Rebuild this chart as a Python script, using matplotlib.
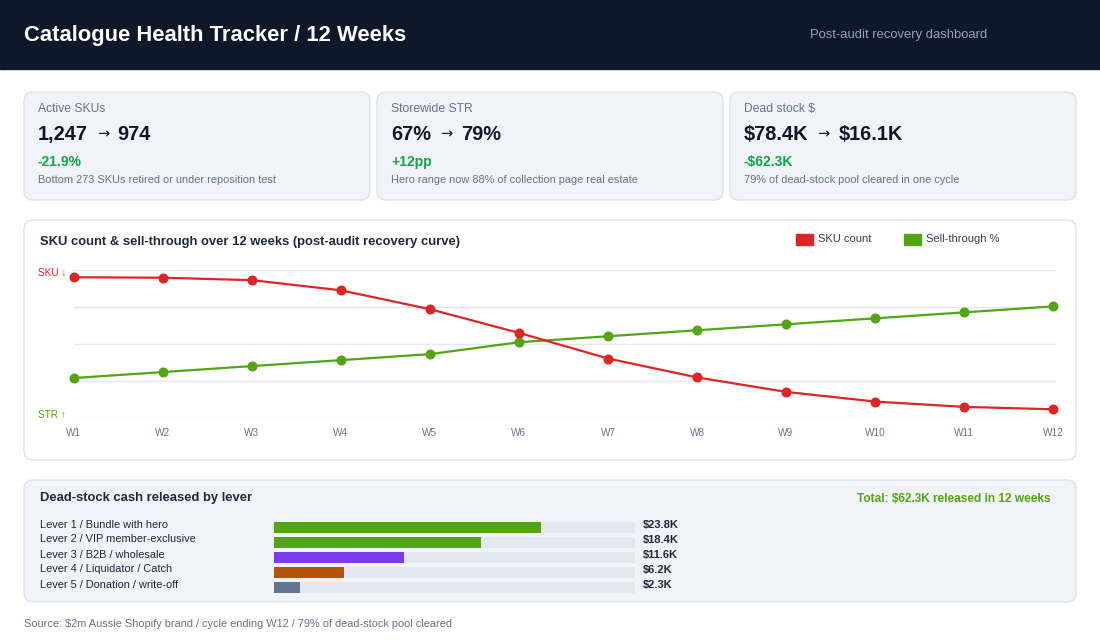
import matplotlib
matplotlib.use('Agg')
import matplotlib.pyplot as plt
from matplotlib.patches import FancyBboxPatch, Rectangle
import numpy as np

plt.rcParams['font.family'] = ['Liberation Sans', 'DejaVu Sans']

# ---------------- data ----------------
weeks = ['W1', 'W2', 'W3', 'W4', 'W5', 'W6', 'W7', 'W8', 'W9', 'W10', 'W11', 'W12']
sku_count = [1247, 1246, 1241, 1220, 1181, 1132, 1079, 1040, 1010, 990, 979, 974]
sell_through = [67, 68, 69, 70, 71, 73, 74, 75, 76, 77, 78, 79]

levers = ['Lever 1 / Bundle with hero', 'Lever 2 / VIP member-exclusive',
          'Lever 3 / B2B / wholesale', 'Lever 4 / Liquidator / Catch',
          'Lever 5 / Donation / write-off']
lever_values = [23.8, 18.4, 11.6, 6.2, 2.3]
lever_value_labels = ['$23.8K', '$18.4K', '$11.6K', '$6.2K', '$2.3K']
lever_colors = ['#52a514', '#52a514', '#7c3aed', '#b45309', '#64748b']

kpi_titles = ['Active SKUs', 'Storewide STR', 'Dead stock $']
kpi_from = ['1,247', '67%', '$78.4K']
kpi_to = ['974', '79%', '$16.1K']
kpi_deltas = ['-21.9%', '+12pp', '-$62.3K']
kpi_notes = ['Bottom 273 SKUs retired or under reposition test',
             'Hero range now 88% of collection page real estate',
             '79% of dead-stock pool cleared in one cycle']

title = 'Catalogue Health Tracker / 12 Weeks'
subtitle = 'Post-audit recovery dashboard'
chart_title = 'SKU count & sell-through over 12 weeks (post-audit recovery curve)'
bar_title = 'Dead-stock cash released by lever'
total_text = 'Total: $62.3K released in 12 weeks'
source_text = 'Source: $2m Aussie Shopify brand / cycle ending W12 / 79% of dead-stock pool cleared'

# ---------------- colours ----------------
NAVY = '#0f172a'
DARK = '#1e293b'
MUTED = '#64748b'
RED = '#dc2626'
GREEN = '#52a514'
DELTA_GREEN = '#16a34a'
CARD = '#f0f3f8'
BORDER = '#dde3ec'
GRID = '#e2e8f0'
TRACK = '#e2e8f0'

W, H = 1100, 640
fig = plt.figure(figsize=(11, 6.4), dpi=100)
fig.patch.set_facecolor('white')
bg = fig.add_axes([0, 0, 1, 1])
bg.set_xlim(0, W)
bg.set_ylim(H, 0)
bg.axis('off')
renderer = fig.canvas.get_renderer()


def rect_px(x0, y0, x1, y1):
    return [x0 / W, 1 - y1 / H, (x1 - x0) / W, (y1 - y0) / H]


def T(x, y, s, **kw):
    kw.setdefault('va', 'center')
    return bg.text(x, y, s, parse_math=False, **kw)


def right_edge(t):
    return t.get_window_extent(renderer=renderer).x1


def card(x0, y0, x1, y1, fc, ec=BORDER, r=9):
    bg.add_patch(FancyBboxPatch((x0, y0), x1 - x0, y1 - y0,
                                boxstyle=f'round,pad=0,rounding_size={r}',
                                fc=fc, ec=ec, lw=1.0))


# header
bg.add_patch(Rectangle((0, 0), W, 69, color=NAVY))
T(24, 35, title, color='white', fontsize=15.8, fontweight='bold')
T(810, 35, subtitle, color='#94a3b8', fontsize=9.4)

# KPI cards
card_x = [(24, 370), (377, 723), (730, 1076)]
for i, (x0, x1) in enumerate(card_x):
    card(x0, 92, x1, 200, CARD)
    tx = x0 + 14
    T(tx, 109, kpi_titles[i], color=MUTED, fontsize=8.7)
    t1 = T(tx, 134.5, kpi_from[i], color=NAVY, fontsize=14.4, fontweight='bold')
    ax_x = right_edge(t1) + 9
    ta = T(ax_x, 134.0, '\u2192', color=NAVY, fontsize=10.5, family='DejaVu Sans')
    T(right_edge(ta) + 8.5, 134.5, kpi_to[i], color=NAVY, fontsize=14.4, fontweight='bold')
    T(tx, 162, kpi_deltas[i], color=DELTA_GREEN, fontsize=10, fontweight='bold')
    T(tx, 180, kpi_notes[i], color=MUTED, fontsize=7.9)

# line chart card
card(24, 220, 1076, 460, 'white')
T(40, 242, chart_title, color=DARK, fontsize=9.35, fontweight='bold')
bg.add_patch(Rectangle((796, 233.5), 17, 11, color=RED))
T(818, 238.5, 'SKU count', color='#334155', fontsize=8)
bg.add_patch(Rectangle((904, 233.5), 17, 11, color=GREEN))
T(926, 238.5, 'Sell-through %', color='#334155', fontsize=8)
T(38, 272.5, 'SKU \u2193', color=RED, fontsize=7.2)
T(38, 414.5, 'STR \u2191', color=GREEN, fontsize=7.2)

x = np.arange(len(weeks))
ax = fig.add_axes(rect_px(74, 270, 1056, 418))
ax.set_xlim(0, 11.034)
ax.set_ylim(60.3, 85.1)
ax.set_yticks(np.linspace(60.3, 85.1, 5))
ax.grid(axis='y', color=GRID, lw=1.0)
ax.tick_params(axis='y', length=0, labelleft=False)
ax.set_xticks(x)
ax.set_xticklabels(weeks)
ax.tick_params(axis='x', length=0, pad=7, labelsize=7.2, labelcolor=MUTED)
for s in ax.spines.values():
    s.set_visible(False)
ax.patch.set_alpha(0)
ax.plot(x, sell_through, color=GREEN, lw=1.6, marker='o', ms=6.2, clip_on=False, zorder=3)

ax2 = ax.twinx()
ax2.set_ylim(956, 1262)
ax2.set_yticks([])
for s in ax2.spines.values():
    s.set_visible(False)
ax2.plot(x, sku_count, color=RED, lw=1.6, marker='o', ms=6.2, clip_on=False, zorder=3)

# bars card
card(24, 480, 1076, 602, CARD)
T(40, 497.5, bar_title, color=DARK, fontsize=9.33, fontweight='bold')
T(1051, 498.5, total_text, color=GREEN, fontsize=8.55, fontweight='bold', ha='right')

xmax = 32.13
axb = fig.add_axes(rect_px(274, 520, 635, 595))
yb = np.arange(len(levers))
axb.barh(yb, [xmax] * len(levers), height=0.71, color=TRACK)
axb.barh(yb, lever_values, height=0.71, color=lever_colors)
axb.set_xlim(0, xmax)
axb.set_ylim(len(levers) - 0.5, -0.5)
axb.axis('off')
for i in range(len(levers)):
    T(40, 524.5 + 15 * i, levers[i], color=DARK, fontsize=7.9)
    T(643, 525 + 15 * i, lever_value_labels[i], color=DARK, fontsize=8, fontweight='bold')

# footer
T(24, 624, source_text, color=MUTED, fontsize=7.9)

fig.savefig('out.png', dpi=100, facecolor='white')
